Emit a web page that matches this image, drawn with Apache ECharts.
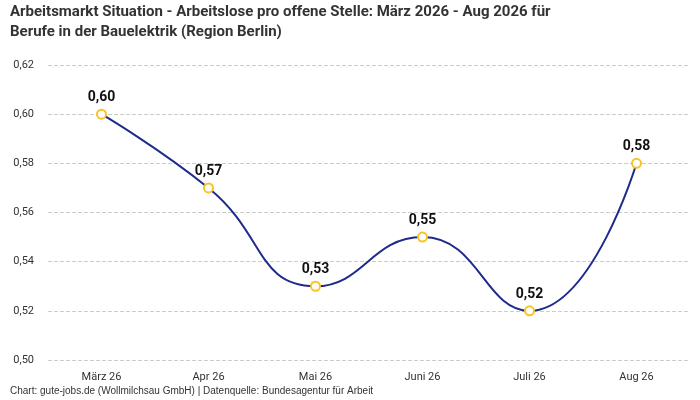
<!DOCTYPE html>
<html>
<head>
<meta charset="utf-8">
<script src="https://cdn.jsdelivr.net/npm/echarts@6/dist/echarts.min.js"></script>
<style>html,body{margin:0;padding:0;background:#fff}#main{width:700px;height:400px}</style>
</head>
<body>
<div id="main"></div>
<script>
var categories = ["März 26", "Apr 26", "Mai 26", "Juni 26", "Juli 26", "Aug 26"];
var values = [0.60, 0.57, 0.53, 0.55, 0.52, 0.58];
var yTicks = { min: 0.50, max: 0.62, interval: 0.02 };

var myChart = echarts.init(document.getElementById('main'));

var fmt = function (v) { return v.toFixed(2).replace('.', ','); };

var option = {
    animation: false,
    textStyle: { fontFamily: 'Roboto' },
    title: {
        text: 'Arbeitsmarkt Situation - Arbeitslose pro offene Stelle: März 2026 - Aug 2026 für\nBerufe in der Bauelektrik (Region Berlin)',
        left: 10,
        top: 2,
        padding: 0,
        textStyle: { fontSize: 15, fontWeight: 'bold', color: '#333', lineHeight: 20 }
    },
    graphic: [{
        type: 'text',
        left: 10,
        bottom: 4,
        style: { text: 'Chart: gute-jobs.de (Wollmilchsau GmbH) | Datenquelle: Bundesagentur für Arbeit', fontSize: 10, fill: '#333' }
    }],
    grid: { left: 48, right: 10, top: 65, bottom: 40 },
    xAxis: {
        type: 'category',
        data: categories,
        boundaryGap: true,
        axisLine: { show: false },
        axisTick: { show: false },
        axisLabel: { color: '#333', fontSize: 11, margin: 12 }
    },
    yAxis: {
        type: 'value',
        min: yTicks.min,
        max: yTicks.max,
        interval: yTicks.interval,
        axisLabel: { color: '#333', fontSize: 11, formatter: fmt, margin: 14 },
        splitLine: { lineStyle: { type: 'dashed', color: '#ccc' } }
    },
    series: [{
        type: 'line',
        data: values,
        smooth: true,
        lineStyle: { color: '#1f2b8c', width: 2 },
        symbol: 'circle',
        symbolSize: 9,
        itemStyle: { color: '#fff', borderColor: '#f7c325', borderWidth: 2 },
        label: {
            show: true,
            position: 'top',
            distance: 4,
            fontSize: 14,
            fontWeight: 'bold',
            color: '#111',
            formatter: function (p) { return fmt(p.value); }
        }
    }]
};

myChart.setOption(option);
</script>
</body>
</html>
